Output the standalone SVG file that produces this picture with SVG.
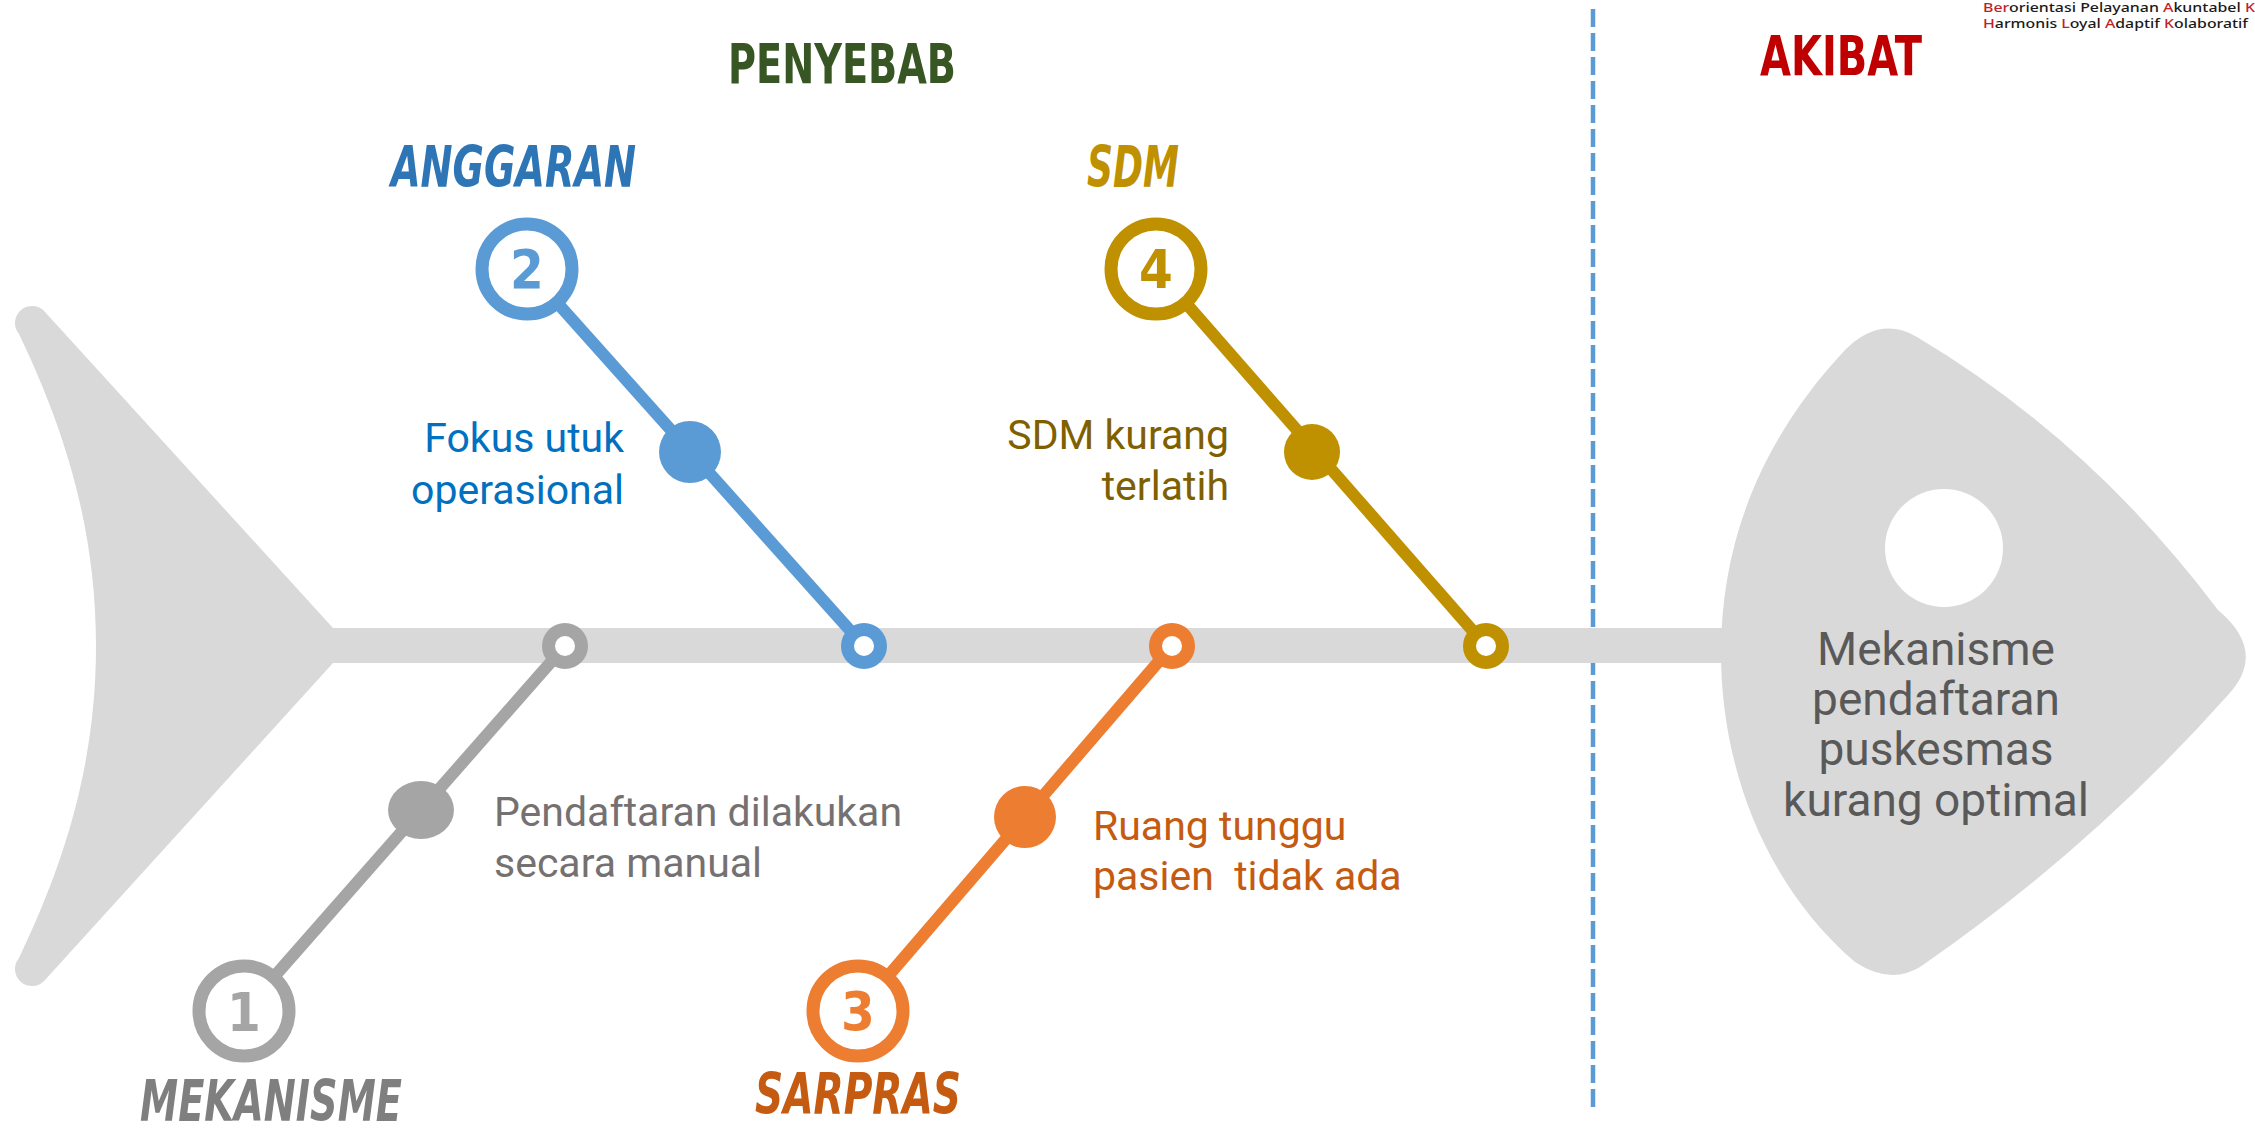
<svg xmlns="http://www.w3.org/2000/svg" width="2255" height="1131" viewBox="0 0 2255 1131">
<style>
.body{fill:#d9d9d9}
.bone{stroke-width:12;stroke-linecap:butt;fill:none}
.num{fill:#fff;stroke-width:13}
.joint{fill:#fff;stroke-width:13}
.digit{font-family:"Liberation Sans Narrow","DejaVu Sans Condensed","Liberation Sans",sans-serif;font-weight:700;font-size:54px;text-anchor:middle}
.cat{font-family:"Liberation Sans Narrow","DejaVu Sans Condensed","Liberation Sans",sans-serif;font-weight:700;font-style:italic;font-size:57px}
.title{font-family:"Liberation Sans Narrow","DejaVu Sans Condensed","Liberation Sans",sans-serif;font-weight:700;font-size:55px}
.desc{font-family:Roboto,"Liberation Sans",sans-serif;font-size:41px}
.wm{font-family:"Noto Sans","Liberation Sans",sans-serif;font-size:12.5px;font-weight:500;fill:#1a1a1a}
.red{fill:#c41e2a}
.gray{stroke:#a5a5a5}
.blue{stroke:#5b9bd5}
.orange{stroke:#ed7d31}
.gold{stroke:#bf9000}
</style>

<!-- watermark -->
<g id="watermark">
<text class="wm" x="1983" y="12" textLength="272" lengthAdjust="spacingAndGlyphs"><tspan class="red">Ber</tspan>orientasi Pelayanan <tspan class="red">A</tspan>kuntabel <tspan class="red">K</tspan></text>
<text class="wm" x="1983" y="28" textLength="265" lengthAdjust="spacingAndGlyphs"><tspan class="red">H</tspan>armonis <tspan class="red">L</tspan>oyal <tspan class="red">A</tspan>daptif <tspan class="red">K</tspan>olaboratif</text>
</g>

<!-- section titles -->
<g id="title-penyebab"><text class="title" x="728" y="83" fill="#375623" textLength="228" lengthAdjust="spacingAndGlyphs">PENYEBAB</text></g>
<g id="title-akibat"><text class="title" x="1760" y="75" fill="#c00000" textLength="162" lengthAdjust="spacingAndGlyphs">AKIBAT</text></g>

<!-- divider -->
<g id="divider"><line x1="1593" y1="9" x2="1593" y2="1107" stroke="#5b9bd5" stroke-width="4.5" stroke-dasharray="18 6"/></g>

<!-- fish body -->
<g id="tail"><path class="body" d="M 333,628 L 45,312 A 17 17 0 0 0 19,334 C 60,420 96,520 96,646 C 96,772 60,872 19,958 A 17 17 0 0 0 45,980 L 333,663 Z"/></g>
<g id="spine"><rect class="body" x="330" y="628" width="1400" height="35"/></g>
<g id="head">
<path class="body" d="M 1917,337 Q 2090,440 2218,610 Q 2268,652 2228,695 Q 2090,850 1920,967 Q 1890,985 1855,962 C 1760,880 1721,760 1721,653 C 1721,530 1770,430 1845,350 Q 1880,315 1917,337 Z"/>
<circle cx="1944" cy="548" r="59" fill="#fff"/>
<text class="desc" fill="#595959" text-anchor="middle" style="font-size:46px"><tspan x="1936" y="665">Mekanisme</tspan><tspan x="1936" y="715">pendaftaran</tspan><tspan x="1936" y="765">puskesmas</tspan><tspan x="1936" y="816">kurang optimal</tspan></text>
</g>

<!-- connectors (bones) -->
<g id="connectors">
<line class="bone gray" x1="244" y1="1011" x2="565" y2="646"/>
<line class="bone blue" x1="527" y1="269" x2="864" y2="646"/>
<line class="bone orange" x1="858" y1="1011" x2="1172" y2="646"/>
<line class="bone gold" x1="1156" y1="269" x2="1486" y2="646"/>
</g>

<!-- cause 1 -->
<g id="cause-mekanisme">
<circle class="joint gray" cx="565" cy="646" r="16.5"/>
<ellipse cx="421" cy="810" rx="33" ry="29" fill="#a5a5a5"/>
<circle class="num gray" cx="244" cy="1011" r="45"/>
<text class="digit" x="244" y="1031" fill="#a5a5a5">1</text>
<text class="cat" x="140" y="1121" fill="#7f7f7f" textLength="262" lengthAdjust="spacingAndGlyphs">MEKANISME</text>
<text class="desc" fill="#767171"><tspan x="494" y="826">Pendaftaran dilakukan</tspan><tspan x="494" y="877">secara manual</tspan></text>
</g>

<!-- cause 2 -->
<g id="cause-anggaran">
<circle class="joint blue" cx="864" cy="646" r="16.5"/>
<circle cx="690" cy="452" r="31" fill="#5b9bd5"/>
<circle class="num blue" cx="527" cy="269" r="45"/>
<text class="digit" x="527" y="288" fill="#5b9bd5">2</text>
<text class="cat" x="391" y="187" fill="#2e75b6" textLength="245" lengthAdjust="spacingAndGlyphs">ANGGARAN</text>
<text class="desc" fill="#0070c0" text-anchor="end"><tspan x="624" y="452">Fokus utuk</tspan><tspan x="624" y="504">operasional</tspan></text>
</g>

<!-- cause 3 -->
<g id="cause-sarpras">
<circle class="joint orange" cx="1172" cy="646" r="16.5"/>
<circle cx="1025" cy="817" r="31" fill="#ed7d31"/>
<circle class="num orange" cx="858" cy="1011" r="45"/>
<text class="digit" x="858" y="1030" fill="#ed7d31">3</text>
<text class="cat" x="755" y="1114" fill="#c55a11" textLength="206" lengthAdjust="spacingAndGlyphs">SARPRAS</text>
<text class="desc" fill="#c55a11" xml:space="preserve" style="white-space:pre"><tspan x="1093" y="840">Ruang tunggu</tspan><tspan x="1093" y="890">pasien  tidak ada</tspan></text>
</g>

<!-- cause 4 -->
<g id="cause-sdm">
<circle class="joint gold" cx="1486" cy="646" r="16.5"/>
<circle cx="1312" cy="452" r="28" fill="#bf9000"/>
<circle class="num gold" cx="1156" cy="269" r="45"/>
<text class="digit" x="1156" y="288" fill="#bf9000">4</text>
<text class="cat" x="1087" y="187" fill="#bf9000" textLength="92" lengthAdjust="spacingAndGlyphs">SDM</text>
<text class="desc" fill="#7f6000" text-anchor="end"><tspan x="1229" y="449">SDM kurang</tspan><tspan x="1229" y="500">terlatih</tspan></text>
</g>
</svg>
